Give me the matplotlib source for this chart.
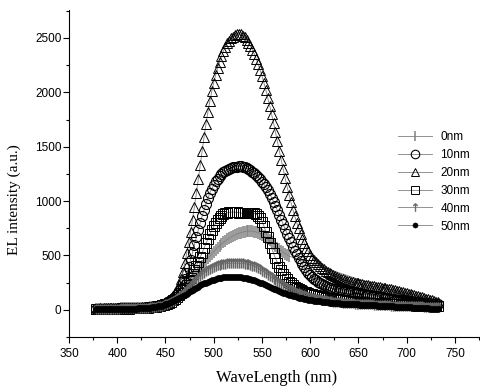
#!/usr/bin/env python3
"""
EL spectra for different layer thicknesses (0-50 nm).
Writes out.png (481x391 px).
"""

import numpy as np
import matplotlib as mpl
import matplotlib.pyplot as plt
from matplotlib.ticker import MultipleLocator

mpl.rcParams.update({
    "font.family": "Liberation Sans",
    "font.size": 8.5,
})

# wavelength grid (nm), 2 nm step
wavelength = np.arange(378, 733, 2)

# the 0 nm run stops early, then one point at the end of the range
wavelength_0nm = np.append(wavelength[wavelength <= 578], 730)

el_0nm = [
    10, 10, 10, 10, 11, 11, 11, 11, 12, 12,            # 378
    12, 12, 12, 13, 13, 13, 14, 14, 14, 15,            # 398
    15, 16, 16, 17, 18, 19, 20, 21, 23, 25,            # 418
    27, 29, 31, 34, 37, 41, 46, 52, 59, 68,            # 438
    80, 92, 106, 121, 138, 157, 177, 199, 222, 246,    # 458
    271, 297, 323, 349, 375, 400, 425, 449, 472, 494,  # 478
    515, 535, 554, 572, 589, 605, 620, 634, 647, 659,  # 498
    670, 680, 689, 697, 704, 710, 715, 719, 722, 724,  # 518
    725, 723, 720, 715, 708, 699, 689, 677, 664, 652,  # 538
    640, 622, 604, 587, 571, 556, 542, 529, 517, 505,  # 558
    494,                                               # 578
    45,                                                # 730
]

el_10nm = [
    10, 10, 10, 11, 11, 11, 11, 12, 12, 12,
    12, 12, 13, 13, 13, 14, 14, 14, 15, 15,
    16, 16, 17, 18, 19, 20, 21, 22, 24, 26,
    28, 31, 34, 38, 43, 49, 56, 65, 76, 90,
    98, 118, 142, 170, 203, 242, 287, 338, 395, 458,
    525, 595, 665, 735, 800, 862, 920, 975, 1027, 1075,
    1115, 1150, 1180, 1206, 1228, 1247, 1263, 1277, 1288, 1297,
    1305, 1310, 1314, 1317, 1319, 1318, 1315, 1310, 1303, 1294,
    1283, 1270, 1255, 1239, 1221, 1201, 1179, 1155, 1128, 1099,
    1066, 1031, 994, 955, 914, 872, 829, 786, 743, 701,
    660, 620, 582, 545, 510, 477, 446, 417, 390, 365,
    342, 321, 302, 285, 270, 256, 244, 233, 224, 216,
    209, 203, 198, 193, 189, 185, 181, 178, 175, 172,
    169, 166, 163, 160, 157, 154, 151, 148, 145, 142,
    139, 136, 133, 130, 127, 124, 121, 118, 115, 112,
    109, 106, 103, 100, 97, 94, 92, 90, 88, 86,
    84, 82, 80, 78, 76, 74, 72, 70, 68, 66,
    64, 62, 60, 58, 56, 54, 53, 52,
]

el_20nm = [
    12, 12, 13, 12, 13, 13, 13, 14, 14, 14,
    14, 15, 15, 15, 16, 16, 16, 17, 17, 18,
    18, 19, 20, 21, 22, 23, 25, 27, 29, 31,
    34, 38, 42, 47, 53, 60, 68, 78, 90, 108,
    128, 152, 185, 228, 282, 350, 430, 520, 620, 720,
    830, 950, 1070, 1200, 1330, 1460, 1590, 1710, 1820, 1920,
    2010, 2090, 2160, 2220, 2280, 2330, 2380, 2420, 2450, 2475,
    2495, 2510, 2525, 2535, 2540, 2535, 2522, 2505, 2483, 2457,
    2427, 2392, 2352, 2308, 2260, 2207, 2150, 2088, 2022, 1952,
    1878, 1800, 1718, 1634, 1548, 1462, 1376, 1292, 1210, 1132,
    1058, 988, 922, 860, 802, 748, 698, 652, 610, 572,
    538, 508, 481, 457, 436, 417, 400, 385, 371, 358,
    346, 335, 325, 316, 307, 299, 292, 285, 279, 273,
    268, 263, 258, 254, 250, 246, 242, 238, 235, 231,
    228, 225, 222, 219, 216, 213, 210, 207, 204, 201,
    198, 195, 191, 187, 183, 179, 175, 171, 167, 163,
    158, 154, 149, 145, 140, 135, 130, 125, 120, 115,
    110, 104, 99, 93, 88, 82, 76, 70,
]

el_30nm = [
    8, 8, 8, 9, 9, 9, 9, 10, 10, 10,
    10, 10, 11, 11, 11, 12, 12, 12, 13, 13,
    14, 14, 15, 16, 17, 18, 19, 20, 22, 24,
    26, 29, 32, 36, 40, 45, 51, 58, 66, 76,
    88, 102, 118, 136, 157, 180, 205, 232, 262, 294,
    328, 364, 402, 442, 483, 525, 568, 611, 653, 694,
    732, 767, 798, 825, 847, 864, 877, 886, 892, 896,
    898, 899, 898, 896, 893, 890, 888, 887, 888, 890,
    891, 890, 886, 878, 864, 843, 812, 770, 720, 665,
    615, 565, 518, 474, 433, 396, 362, 332, 305, 281,
    260, 242, 226, 212, 200, 190, 181, 173, 166, 160,
    154, 148, 143, 138, 133, 129, 125, 121, 117, 113,
    110, 107, 104, 101, 98, 95, 92, 90, 88, 86,
    84, 82, 80, 78, 76, 74, 72, 70, 68, 67,
    66, 65, 64, 63, 62, 61, 60, 59, 58, 57,
    56, 55, 54, 53, 52, 51, 50, 49, 48, 47,
    46, 45, 44, 43, 42, 41, 40, 39, 38, 37,
    36, 35, 35, 34, 34, 33, 33, 32,
]

el_40nm = [
    10, 10, 10, 10, 11, 11, 11, 11, 12, 12,
    12, 12, 12, 13, 13, 13, 14, 14, 14, 15,
    15, 16, 16, 17, 18, 19, 20, 21, 22, 24,
    26, 28, 31, 34, 38, 43, 49, 56, 64, 73,
    83, 94, 106, 119, 133, 148, 164, 181, 199, 218,
    237, 256, 275, 293, 310, 326, 341, 355, 367, 378,
    388, 396, 403, 409, 414, 418, 421, 424, 426, 428,
    429, 430, 430, 430, 429, 428, 426, 424, 421, 417,
    412, 406, 399, 391, 382, 372, 361, 349, 337, 324,
    311, 298, 285, 272, 259, 247, 235, 224, 213, 203,
    193, 184, 175, 167, 159, 152, 145, 139, 133, 127,
    122, 117, 112, 108, 104, 100, 96, 93, 90, 87,
    84, 81, 78, 76, 74, 72, 70, 68, 66, 64,
    62, 61, 60, 59, 58, 57, 56, 55, 54, 53,
    52, 51, 50, 49, 48, 47, 46, 45, 44, 43,
    42, 41, 40, 39, 38, 38, 37, 37, 36, 36,
    35, 35, 34, 34, 33, 33, 32, 32, 31, 31,
    30, 30, 29, 29, 28, 28, 27, 27,
]

el_50nm = [
    5, 5, 5, 6, 6, 6, 6, 7, 7, 7,
    7, 8, 8, 8, 9, 9, 9, 10, 10, 11,
    11, 12, 13, 14, 15, 16, 17, 19, 21, 23,
    25, 28, 31, 35, 39, 44, 50, 57, 64, 72,
    80, 89, 98, 108, 118, 128, 139, 150, 161, 172,
    183, 194, 204, 214, 224, 233, 242, 250, 258, 265,
    272, 278, 283, 288, 292, 296, 299, 301, 303, 304,
    305, 305, 305, 304, 302, 300, 297, 294, 290, 286,
    281, 276, 270, 264, 257, 250, 243, 235, 227, 219,
    211, 203, 195, 187, 179, 172, 165, 158, 151, 145,
    139, 133, 128, 123, 118, 113, 109, 105, 101, 97,
    94, 91, 88, 85, 82, 79, 77, 75, 73, 71,
    69, 67, 65, 63, 61, 60, 59, 58, 57, 56,
    55, 54, 53, 52, 51, 50, 49, 48, 47, 46,
    45, 44, 43, 42, 41, 40, 39, 38, 37, 36,
    35, 34, 33, 32, 31, 30, 29, 28, 27, 26,
    25, 24, 23, 22, 21, 20, 19, 18, 17, 16,
    15, 14, 13, 12, 11, 10, 9, 8,
]

labels = ["0nm", "10nm", "20nm", "30nm", "40nm", "50nm"]


def main() -> None:
    fig = plt.figure(figsize=(4.81, 3.91), dpi=100)
    ax = fig.add_axes([69 / 481, 54 / 391, 412 / 481, 327 / 391])

    line_kw = dict(color="0.5", linewidth=0.6)
    ax.plot(wavelength_0nm, el_0nm, marker="|", markersize=8, markeredgewidth=1.1,
            markeredgecolor="0.5", label=labels[0], **line_kw)
    ax.plot(wavelength, el_10nm, marker="o", markersize=7.2, markerfacecolor="none",
            markeredgecolor="black", markeredgewidth=0.8, label=labels[1], **line_kw)
    ax.plot(wavelength, el_20nm, marker="^", markersize=7.5, markerfacecolor="none",
            markeredgecolor="black", markeredgewidth=0.7, label=labels[2], **line_kw)
    ax.plot(wavelength, el_30nm, marker="s", markersize=6.5, markerfacecolor="none",
            markeredgecolor="black", markeredgewidth=0.7, label=labels[3], **line_kw)
    ax.plot(wavelength, el_40nm, marker=r"$\uparrow$", markersize=7,
            markeredgewidth=0.3, markerfacecolor="0.4", markeredgecolor="0.4",
            label=labels[4], **line_kw)
    ax.plot(wavelength, el_50nm, marker="o", markersize=4.2, markerfacecolor="black",
            markeredgecolor="black", markeredgewidth=0.5, label=labels[5], **line_kw)

    ax.set_xlim(350, 777)
    ax.set_ylim(-250, 2757)
    ax.xaxis.set_major_locator(MultipleLocator(50))
    ax.xaxis.set_minor_locator(MultipleLocator(25))
    ax.yaxis.set_major_locator(MultipleLocator(500))
    ax.yaxis.set_minor_locator(MultipleLocator(250))
    ax.tick_params(which="major", direction="out", length=4, width=0.8, labelsize=8.5)
    ax.tick_params(which="minor", direction="out", length=2.2, width=0.8)
    ax.tick_params(axis="y", which="major", pad=1.5)
    ax.tick_params(axis="x", which="major", pad=4)

    for side in ("top", "right"):
        ax.spines[side].set_visible(False)

    ax.set_xlabel("WaveLength (nm)", family="Liberation Serif", fontsize=12)
    ax.set_ylabel("EL intensity (a.u.)", family="Liberation Serif", fontsize=11)
    ax.xaxis.set_label_coords(0.505, -0.10)
    ax.yaxis.set_label_coords(-0.117, 0.42)

    ax.legend(
        loc="upper left",
        bbox_to_anchor=(398 / 481, 1 - 131 / 391),
        bbox_transform=fig.transFigure,
        frameon=False,
        fontsize=8.5,
        borderpad=0,
        borderaxespad=0,
        handlelength=2.9,
        handletextpad=0.7,
        labelspacing=0.5,
        markerscale=0.85,
    )

    fig.savefig("out.png", dpi=100)
    plt.close(fig)


if __name__ == "__main__":
    main()
